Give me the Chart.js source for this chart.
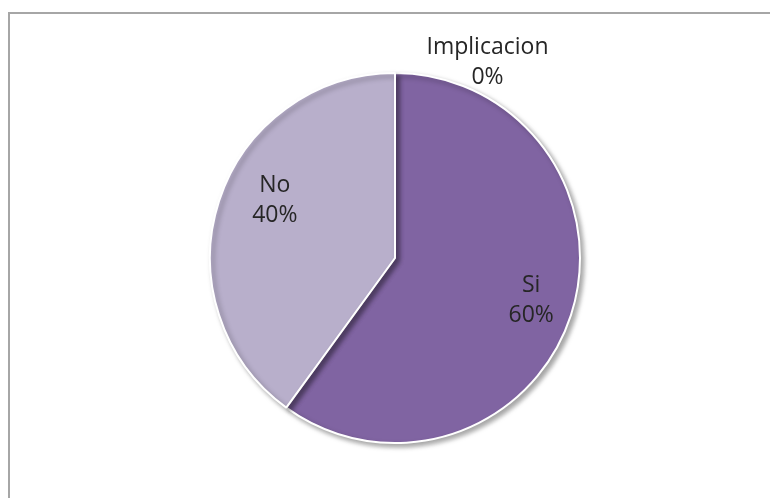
<!DOCTYPE html>
<html>
<head>
<meta charset="utf-8">
<script src="https://cdn.jsdelivr.net/npm/chart.js@4/dist/chart.umd.min.js"></script>
<style>
    html, body { margin: 0; padding: 0; background: #fff; }
    #wrap { width: 770px; height: 498px; position: relative; }
</style>
</head>
<body>
<div id="wrap"><canvas id="pie"></canvas></div>
<script>
// Datos de la encuesta
const categorias = ['Si', 'No', 'Implicacion'];
const porcentajes = [60, 40, 0];
const colores = ['#8064A2', '#B8AFCB', '#4F81BD'];

// Marco gris del área del gráfico (solo borde superior e izquierdo visibles)
const marco = {
    id: 'marco',
    beforeDraw(chart) {
        const ctx = chart.ctx;
        ctx.save();
        ctx.strokeStyle = '#A6A6A6';
        ctx.lineWidth = 2;
        ctx.beginPath();
        ctx.moveTo(9, chart.height + 5);
        ctx.lineTo(9, 13);
        ctx.lineTo(chart.width + 5, 13);
        ctx.stroke();
        ctx.restore();
    }
};

// Sombra suave bajo el pastel
const sombra = {
    id: 'sombra',
    beforeDatasetDraw(chart) {
        const ctx = chart.ctx;
        ctx.save();
        ctx.shadowColor = 'rgba(0,0,0,0.35)';
        ctx.shadowBlur = 5;
        ctx.shadowOffsetX = 3;
        ctx.shadowOffsetY = 3;
    },
    afterDatasetDraw(chart) {
        chart.ctx.restore();
    }
};

// Etiquetas "categoría / porcentaje" sobre cada sector
const etiquetas = {
    id: 'etiquetas',
    afterDatasetsDraw(chart, args, opts) {
        const ctx = chart.ctx;
        const meta = chart.getDatasetMeta(0);
        ctx.save();
        ctx.font = '23px "Open Sans"';
        ctx.fillStyle = '#262626';
        ctx.textAlign = 'center';
        ctx.textBaseline = 'middle';
        meta.data.forEach((arc, i) => {
            const p = arc.getProps(['x', 'y', 'startAngle', 'endAngle', 'outerRadius'], true);
            const mid = (p.startAngle + p.endAngle) / 2;
            const off = opts.ajustes[i] || [0, 0];
            let x, y;
            if (porcentajes[i] === 0) {
                // sector vacío: etiqueta fuera, encima del borde
                x = p.x + p.outerRadius * 0.5 + off[0];
                y = p.y - p.outerRadius - 17 + off[1];
            } else {
                x = p.x + Math.cos(mid) * p.outerRadius * 0.74 + off[0];
                y = p.y + Math.sin(mid) * p.outerRadius * 0.74 + off[1];
            }
            ctx.fillText(categorias[i], x, y - 15);
            ctx.fillText(porcentajes[i] + '%', x, y + 15);
        });
        ctx.restore();
    }
};

new Chart(document.getElementById('pie'), {
    type: 'pie',
    data: {
        labels: categorias,
        datasets: [{
            data: porcentajes,
            backgroundColor: colores,
            borderColor: '#FFFFFF',
            borderWidth: 2
        }]
    },
    options: {
        responsive: true,
        maintainAspectRatio: false,
        animation: false,
        layout: { padding: { top: 72, bottom: 54, left: 20, right: 0 } },
        plugins: {
            legend: { display: false },
            tooltip: { enabled: false },
            etiquetas: { ajustes: [[6, 0], [10, -15], [0, 6]] }
        }
    },
    plugins: [marco, sombra, etiquetas]
});
</script>
</body>
</html>
